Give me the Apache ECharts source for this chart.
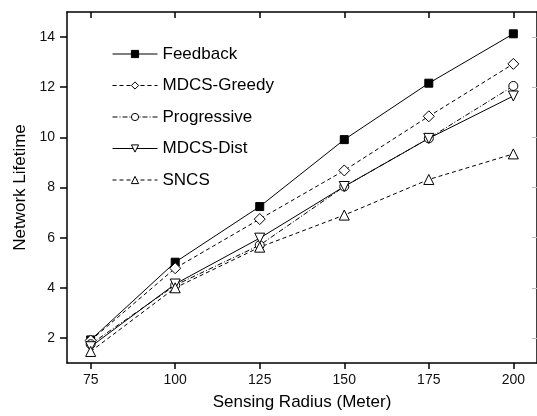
<!DOCTYPE html>
<html>
<head>
<meta charset="utf-8">
<script src="https://cdn.jsdelivr.net/npm/echarts@6/dist/echarts.min.js"></script>
<style>
  html, body { margin: 0; padding: 0; background: #fff; }
  #chart { width: 537px; height: 416px; }
</style>
</head>
<body>
<div id="chart"></div>
<script>
// sensing radius (meter)
var radius = [75, 100, 125, 150, 175, 200];
var yTicks = [2, 4, 6, 8, 10, 12, 14];

var feedback    = [1.92, 5.02, 7.24, 9.91, 12.16, 14.13];
var mdcsGreedy  = [1.90, 4.78, 6.74, 8.68, 10.84, 12.93];
var progressive = [1.75, 4.10, 5.70, 8.04, 9.96, 12.05];
var mdcsDist    = [1.65, 4.15, 5.98, 8.04, 9.96, 11.65];
var sncs        = [1.46, 4.00, 5.62, 6.90, 8.32, 9.34];

var font = 'Liberation Sans, Arial, sans-serif';

function pairs (vals)
{
  return radius.map(function (r, i) { return [r, vals[i]]; });
}

function makeSeries (name, vals, symbol, size, dash, filled, rotate)
{
  return {
    name: name,
    type: 'line',
    data: pairs(vals),
    symbol: symbol,
    symbolSize: size,
    symbolRotate: rotate || 0,
    showAllSymbol: true,
    z: 3,
    lineStyle: { color: '#000', width: 1, type: dash },
    itemStyle: {
      color: filled ? '#000' : '#fff',
      borderColor: '#000',
      borderWidth: 1
    },
    emphasis: { disabled: true }
  };
}

var chart = echarts.init(document.getElementById('chart'));

var axisLine = { show: true, onZero: false, lineStyle: { color: '#000', width: 1.5 } };

var option = {
  animation: false,
  backgroundColor: '#fff',
  grid: { left: 67, top: 12, right: -3, bottom: 53 },
  legend: {
    orient: 'vertical',
    left: 112,
    top: 45.5,
    padding: 0,
    itemWidth: 45,
    itemHeight: 9,
    itemGap: 14.5,
    lineStyle: { width: 1 },
    itemStyle: { borderWidth: 1 },
    textStyle: { fontFamily: font, fontSize: 17, color: '#000' },
    data: ['Feedback', 'MDCS-Greedy', 'Progressive', 'MDCS-Dist', 'SNCS']
  },
  xAxis: [
    {
      type: 'value',
      min: 68,
      max: 207,
      name: 'Sensing Radius (Meter)',
      nameLocation: 'middle',
      nameGap: 31,
      nameTextStyle: { fontFamily: font, fontSize: 17, color: '#000' },
      axisLine: axisLine,
      axisTick: { show: true, inside: false, length: 6, customValues: radius, lineStyle: { color: '#000', width: 1.5 } },
      axisLabel: { customValues: radius, margin: 10, fontFamily: font, fontSize: 14, color: '#111' },
      splitLine: { show: false }
    },
    {
      type: 'value',
      position: 'top',
      min: 68,
      max: 207,
      axisLine: axisLine,
      axisTick: { show: true, inside: true, length: 6, customValues: radius, lineStyle: { color: '#000', width: 1.5 } },
      axisLabel: { show: false },
      splitLine: { show: false }
    }
  ],
  yAxis: [
    {
      type: 'value',
      min: 1,
      max: 15,
      name: 'Network Lifetime',
      nameLocation: 'middle',
      nameGap: 34,
      nameTextStyle: { fontFamily: font, fontSize: 17, color: '#000' },
      axisLine: axisLine,
      axisTick: { show: true, inside: false, length: 7, customValues: yTicks, lineStyle: { color: '#000', width: 1.5 } },
      axisLabel: { customValues: yTicks, margin: 12, fontFamily: font, fontSize: 14, color: '#111' },
      splitLine: { show: false }
    },
    {
      type: 'value',
      position: 'right',
      min: 1,
      max: 15,
      axisLine: axisLine,
      axisTick: { show: true, inside: true, length: 5, customValues: yTicks, lineStyle: { color: '#bbb', width: 1 } },
      axisLabel: { show: false },
      splitLine: { show: false }
    }
  ],
  series: [
    makeSeries('Feedback', feedback, 'rect', 8, 'solid', true),
    makeSeries('MDCS-Greedy', mdcsGreedy, 'diamond', 11, [4, 3], false),
    makeSeries('Progressive', progressive, 'circle', 9, [5, 2, 1, 2], false),
    makeSeries('MDCS-Dist', mdcsDist, 'triangle', 10, 'solid', false, 180),
    makeSeries('SNCS', sncs, 'triangle', 10, [4, 3], false)
  ]
};

chart.setOption(option);
</script>
</body>
</html>
